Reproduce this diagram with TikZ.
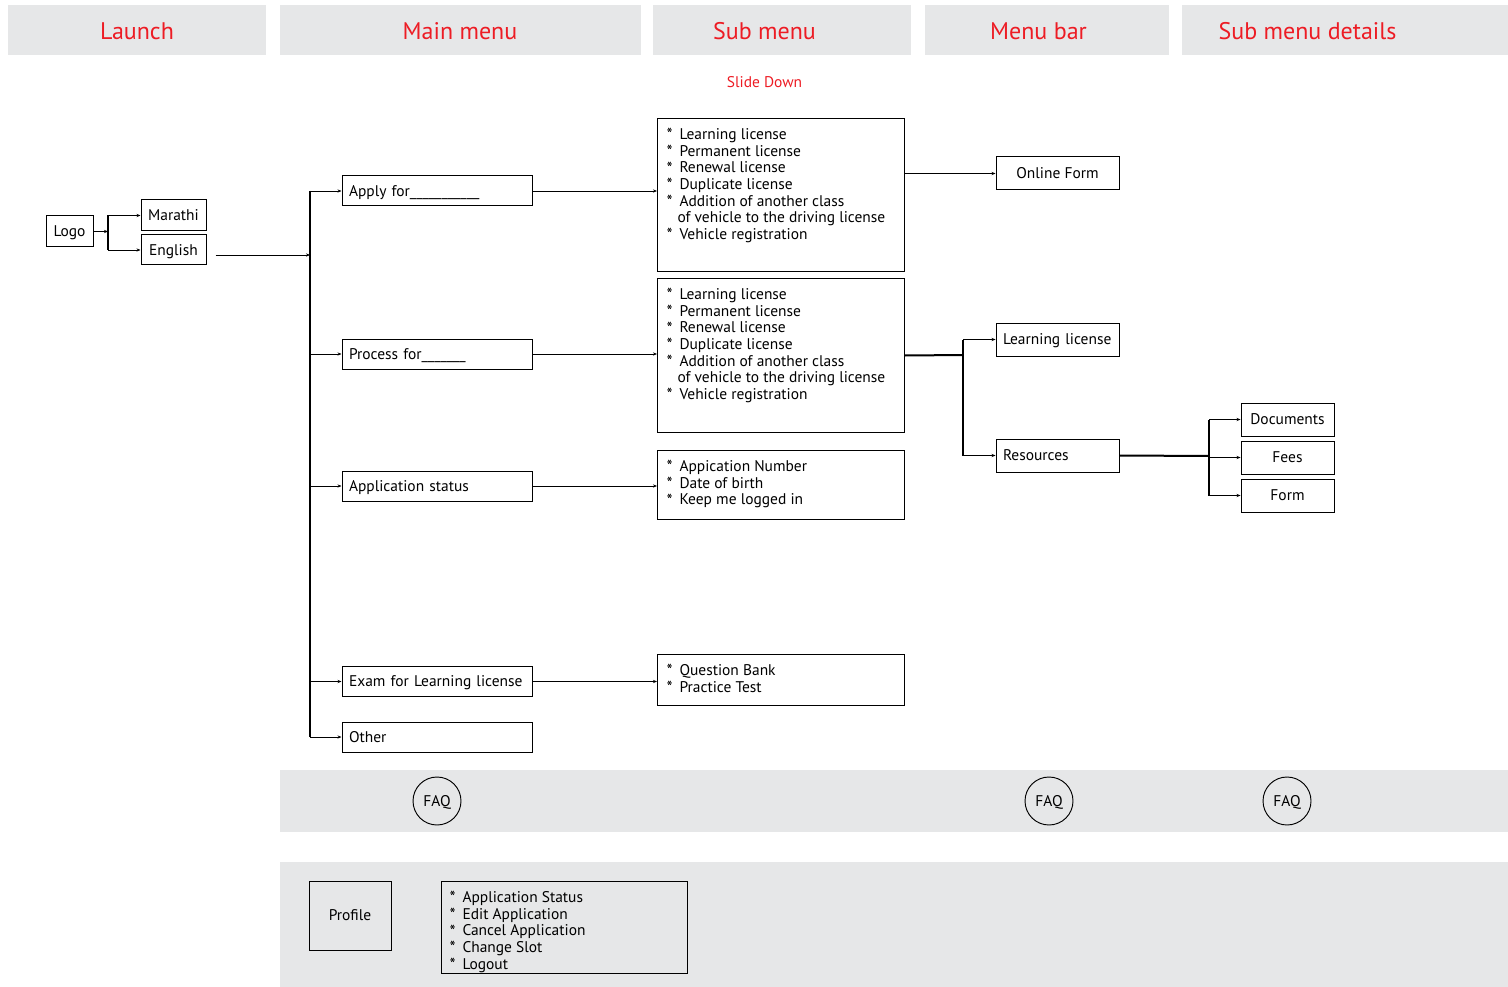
\documentclass[tikz,border=0pt]{standalone}
\usepackage{fontspec}
\setmainfont{PT Sans}
\usetikzlibrary{positioning, arrows.meta}

\definecolor{bandgray}{HTML}{E6E7E8}
\definecolor{headred}{HTML}{ED1C24}

\newcommand{\itm}{\makebox[9.75pt][l]{\raisebox{-1pt}{\fontsize{13}{12.5}\selectfont*}}}
\newcommand{\contd}{\hspace*{8.25pt}}

\begin{document}
\begin{tikzpicture}[
    x=0.75pt, y=-0.75pt,
    font=\fontsize{11.6}{12.5}\selectfont,
    header/.style={text=headred, font=\fontsize{18}{19}\selectfont, inner sep=0pt},
    box/.style={draw, line width=0.75pt, inner sep=0pt},
    oneline/.style={box, text height=9.7pt, text depth=2pt},
    langbox/.style={oneline, minimum width=48.75pt, minimum height=23.25pt},
    menubox/.style={oneline, minimum width=142.5pt, minimum height=22.5pt,
        inner xsep=5.25pt, text width=132pt, align=left},
    listbox/.style={box, anchor=north west, inner xsep=6.75pt, inner ysep=7.5pt},
    barbox/.style={oneline, minimum width=92.25pt, minimum height=24.75pt},
    detailbox/.style={oneline, minimum width=69.75pt, minimum height=24.75pt},
    faq/.style={circle, draw, line width=0.7pt, minimum size=36pt, inner sep=0pt,
        text height=9.7pt, text depth=2pt},
    arr/.style={-{Stealth[length=3pt,width=2.4pt]}, line width=0.7pt},
    trunk/.style={line width=1.5pt}
]

% Header bands
\fill[bandgray] (8,5) rectangle (266,55);
\fill[bandgray] (280,5) rectangle (641,55);
\fill[bandgray] (653,5) rectangle (911,55);
\fill[bandgray] (925,5) rectangle (1169,55);
\fill[bandgray] (1182,5) rectangle (1508,55);
\node[header] (hlaunch) at (137,31) {Launch};
\node[header] (hmain) at (460,31) {Main menu};
\node[header] (hsub) at (764.5,31) {Sub menu};
\node[header] (hbar) at (1038.5,31) {Menu bar};
\node[header] (hdetails) at (1307.5,31) {Sub menu details};
\node[text=headred] (slide) at (764.5,82) {Slide Down};

% Launch
\node[oneline, minimum width=35.25pt, minimum height=23.25pt] (logo) at (69.5,231.5) {Logo};
\node[langbox] (marathi) at (173.5,215.5) {Marathi};
\node[langbox, minimum height=22.5pt, below=2.25pt of marathi] (english) {English};

% Main menu
\node[menubox] (apply) at (437,191) {Apply for\_\_\_\_\_\_\_\_\_\_\_};
\node[menubox] (process) at (437,354) {Process for\_\_\_\_\_\_\_};
\node[menubox] (status) at (437,486) {Application status};
\node[menubox] (exam) at (437,681.5) {Exam for Learning license};
\node[menubox] (other) at (437,737) {Other};

% Sub menu
\node[listbox] (sub1) at (657,118) {\parbox[c][99.75pt][t]{171.75pt}{\raggedright
    \itm Learning license\\
    \itm Permanent license\\
    \itm Renewal license\\
    \itm Duplicate license\\
    \itm Addition of another class\\
    \contd of vehicle to the driving license\\
    \itm Vehicle registration}};
\node[listbox] (sub2) at (657,278) {\parbox[c][100.5pt][t]{171.75pt}{\raggedright
    \itm Learning license\\
    \itm Permanent license\\
    \itm Renewal license\\
    \itm Duplicate license\\
    \itm Addition of another class\\
    \contd of vehicle to the driving license\\
    \itm Vehicle registration}};
\node[listbox] (sub3) at (657,450) {\parbox[c][36.75pt][t]{171.75pt}{\raggedright
    \itm Appication Number\\
    \itm Date of birth\\
    \itm Keep me logged in}};
\node[listbox] (sub4) at (657,654) {\parbox[c][23.25pt][t]{171.75pt}{\raggedright
    \itm Question Bank\\
    \itm Practice Test}};

% Menu bar
\node[barbox] (online) at (1057.5,173.5) {Online Form};
\node[barbox, inner xsep=5.25pt, text width=81.75pt, align=left] (learning) at (1057.5,339.5) {Learning license};
\node[barbox, inner xsep=5.25pt, text width=81.75pt, align=left] (resources) at (1057.5,455.5) {Resources};

% Sub menu details
\node[detailbox] (docs) at (1287.5,419.5) {Documents};
\node[detailbox, below=3pt of docs] (fees) {Fees};
\node[detailbox, below=3pt of fees] (form) {Form};

% Branch points
\coordinate (lbar) at (108,232);
\coordinate (mtrunk) at (310,254);
\coordinate (mbar) at (963,355);
\coordinate (rbar) at (1209,456);
\coordinate (langout) at ([shift={(9,5)}]english.east);

% Edges
\draw[arr] (logo.east) -- (logo.east -| lbar);
\draw[trunk] (lbar |- marathi) -- (lbar |- english);
\draw[arr] (lbar |- marathi) -- (marathi);
\draw[arr] (lbar |- english) -- (english);
\draw[arr] (langout) -- (langout -| mtrunk);

\draw[trunk] (mtrunk |- apply) -- (mtrunk |- other);
\foreach \m in {apply, process, status, exam, other}
    \draw[arr] (mtrunk |- \m) -- (\m);

\draw[arr] (apply.east) -- (apply.east -| sub1.west);
\draw[arr] (process.east) -- (process.east -| sub2.west);
\draw[arr] (status.east) -- (status.east -| sub3.west);
\draw[arr] (exam.east) -- (exam.east -| sub4.west);

\draw[arr] (online.west -| sub1.east) -- (online.west);
\draw[trunk] (sub2.east) -- (mbar);
\draw[trunk] (mbar |- learning) -- (mbar |- resources);
\draw[arr] (mbar |- learning) -- (learning);
\draw[arr] (mbar |- resources) -- (resources);

\draw[trunk] (resources.east) -- (rbar);
\draw[trunk] (rbar |- docs) -- (rbar |- form);
\foreach \d in {docs, fees, form}
    \draw[arr] (rbar |- \d) -- (\d);

% FAQ band
\fill[bandgray] (280,770) rectangle (1508,832);
\node[faq] (faq1) at (437,801) {FAQ};
\node[faq] (faq2) at (1049,801) {FAQ};
\node[faq] (faq3) at (1287,801) {FAQ};

% Profile band
\fill[bandgray] (280,862) rectangle (1508,987);
\node[oneline, minimum width=61.5pt, minimum height=51.75pt] (profile) at (350,915.5) {Profile};
\node[listbox, inner xsep=6pt] (profilelist) at (441,881) {\parbox[c][54pt][t]{172.5pt}{\raggedright
    \itm Application Status\\
    \itm Edit Application\\
    \itm Cancel Application\\
    \itm Change Slot\\
    \itm Logout}};

\useasboundingbox (0,0) rectangle (1508,987);
\end{tikzpicture}
\end{document}
